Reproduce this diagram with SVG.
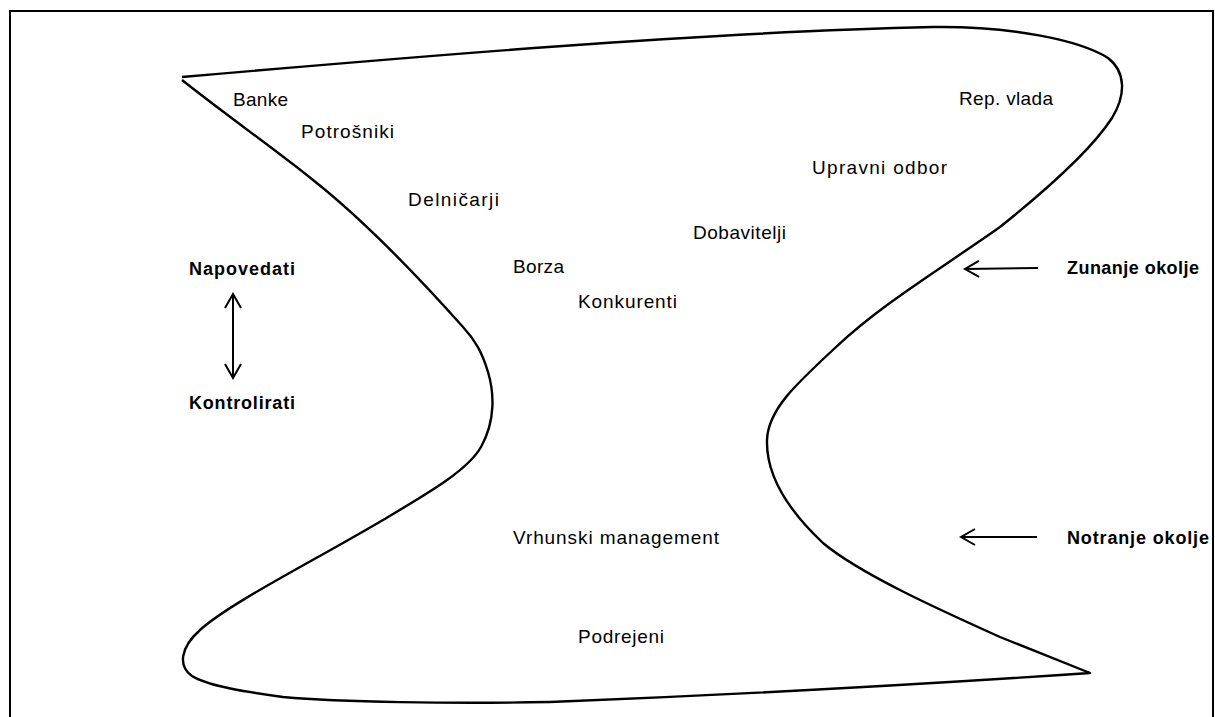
<svg xmlns="http://www.w3.org/2000/svg" width="1215" height="717" viewBox="0 0 1215 717">
<style>
.t{font-family:"Liberation Sans",Arial,sans-serif;font-size:19px;fill:#000}
.b{font-family:"Liberation Sans",Arial,sans-serif;font-size:18px;font-weight:bold;fill:#000}
.ar{stroke:#000;stroke-width:2;fill:none}
</style>
<defs>
<marker id="head" markerUnits="userSpaceOnUse" viewBox="0 0 18 20" refX="16" refY="10" markerWidth="18" markerHeight="20" orient="auto-start-reverse" overflow="visible">
<path d="M2,2 L16,10 L2,18" fill="none" stroke="#000" stroke-width="2"/>
</marker>
</defs>
<rect x="0" y="0" width="1215" height="717" fill="#fff"/>
<rect id="frame" x="10" y="11" width="1203" height="730" fill="none" stroke="#000" stroke-width="2"/>
<g id="shape">
<path d="M182,77 C400,58 700,32 933,27 C1010,26 1080,40 1108,58 C1126,72 1126,95 1112,118 C1090,152 1040,195 1000,227 C942,268 880,305 835,348 C795,385 768,410 767,440 C766,478 790,512 823,543 C860,574 940,610 1000,637 L1090,673 C900,686 700,696 550,702 C450,704 340,702 283,697 C245,692 208,686 192,676 C178,666 180,648 200,630 C230,603 310,563 383,520 C430,492 468,470 481,447 C496,420 494,392 488,372 C482,352 475,340 463,327 C430,290 370,225 313,180 C280,153 230,118 182,80" fill="none" stroke="#000" stroke-width="2.4" stroke-linejoin="round"/>
</g>
<g id="n-banke"><text class="t" x="233" y="106" textLength="55" lengthAdjust="spacing">Banke</text></g>
<g id="n-potrosniki"><text class="t" x="301" y="138" textLength="93" lengthAdjust="spacing">Potrošniki</text></g>
<g id="n-delnicarji"><text class="t" x="408" y="206" textLength="91" lengthAdjust="spacing">Delničarji</text></g>
<g id="n-borza"><text class="t" x="513" y="273" textLength="51" lengthAdjust="spacing">Borza</text></g>
<g id="n-konkurenti"><text class="t" x="578" y="308" textLength="99" lengthAdjust="spacing">Konkurenti</text></g>
<g id="n-dobavitelji"><text class="t" x="693" y="239" textLength="93" lengthAdjust="spacing">Dobavitelji</text></g>
<g id="n-upravni"><text class="t" x="812" y="174" textLength="135" lengthAdjust="spacing">Upravni odbor</text></g>
<g id="n-vlada"><text class="t" x="959" y="105" textLength="94" lengthAdjust="spacing">Rep. vlada</text></g>
<g id="n-vrhunski"><text class="t" x="513" y="544" textLength="206" lengthAdjust="spacing">Vrhunski management</text></g>
<g id="n-podrejeni"><text class="t" x="578" y="643" textLength="86" lengthAdjust="spacing">Podrejeni</text></g>
<g id="n-napovedati"><text class="b" x="189" y="275" textLength="106" lengthAdjust="spacing">Napovedati</text></g>
<g id="n-kontrolirati"><text class="b" x="189" y="409" textLength="106" lengthAdjust="spacing">Kontrolirati</text></g>
<g id="n-zunanje"><text class="b" x="1067" y="274" textLength="132" lengthAdjust="spacing">Zunanje okolje</text></g>
<g id="n-notranje"><text class="b" x="1067" y="544" textLength="142" lengthAdjust="spacing">Notranje okolje</text></g>
<g id="connectors">
<line class="ar" x1="233" y1="294" x2="233" y2="378" marker-start="url(#head)" marker-end="url(#head)"/>
<line class="ar" x1="1038" y1="268" x2="965" y2="269" marker-end="url(#head)"/>
<line class="ar" x1="1037" y1="537" x2="961" y2="537" marker-end="url(#head)"/>
</g>
</svg>
